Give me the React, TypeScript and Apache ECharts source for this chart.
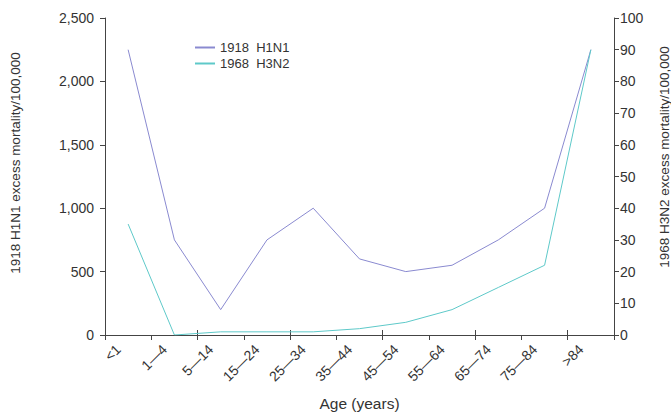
import React, { useEffect, useRef } from "react";
import * as echarts from "echarts";

const ageGroups = ["<1", "1—4", "5—14", "15—24", "25—34", "35—44", "45—54", "55—64", "65—74", "75—84", ">84"];
const h1n1_1918 = [2250, 750, 200, 750, 1000, 600, 500, 550, 750, 1000, 2250];
const h3n2_1968 = [35, 0, 1, 1, 1, 2, 4, 8, 15, 22, 90];

const FONT = "Liberation Sans, Arial, Helvetica, sans-serif";
const AXIS_COLOR = "#444";
const TEXT_COLOR = "#333";

export default function App() {
  const ref = useRef<HTMLDivElement>(null);
  useEffect(() => {
    if (!ref.current) return;
    const chart = echarts.init(ref.current, null, { renderer: "svg" });
    chart.setOption({
      animation: false,
      textStyle: { fontFamily: FONT },
      grid: { left: 105, right: 57, top: 18, bottom: 78, containLabel: false, outerBoundsMode: "none" },
      legend: {
        left: 190,
        top: 36,
        orient: "vertical",
        itemWidth: 20,
        itemHeight: 2,
        itemGap: 3,
        icon: "rect",
        textStyle: { fontSize: 13, color: TEXT_COLOR, fontFamily: FONT },
        data: ["1918  H1N1", "1968  H3N2"],
      },
      xAxis: [
        {
          type: "category",
          data: ageGroups,
          boundaryGap: true,
          name: "Age (years)",
          nameLocation: "middle",
          nameGap: 60,
          nameTextStyle: { fontSize: 15.5, color: TEXT_COLOR, fontFamily: FONT },
          axisLine: { lineStyle: { color: AXIS_COLOR, width: 1 } },
          axisTick: { show: true, length: 5, lineStyle: { color: AXIS_COLOR } },
          axisLabel: {
            rotate: 45,
            fontSize: 14,
            color: TEXT_COLOR,
            margin: 2,
            padding: [0, 14, 0, 0],
            fontFamily: FONT,
            interval: 0,
          },
        },
        {
          type: "category",
          data: ageGroups,
          boundaryGap: true,
          position: "bottom",
          axisLine: { show: false },
          axisTick: { show: true, inside: true, length: 5, lineStyle: { color: AXIS_COLOR } },
          axisLabel: { show: false },
        },
      ],
      yAxis: [
        {
          type: "value",
          min: 0,
          max: 2500,
          interval: 500,
          name: "1918 H1N1 excess mortality/100,000",
          nameLocation: "middle",
          nameGap: 83,
          nameTextStyle: { fontSize: 13.5, color: TEXT_COLOR, fontFamily: FONT, padding: [0, 0, 0, 27] },
          axisLine: { show: true, lineStyle: { color: AXIS_COLOR } },
          axisTick: { show: true, length: 5, lineStyle: { color: AXIS_COLOR } },
          splitLine: { show: false },
          axisLabel: {
            fontSize: 14,
            color: TEXT_COLOR,
            margin: 11,
            fontFamily: FONT,
            formatter: (v: number) => v.toLocaleString("en-US"),
          },
        },
        {
          type: "value",
          min: 0,
          max: 100,
          interval: 10,
          position: "right",
          name: "1968 H3N2 excess mortality/100,000",
          nameLocation: "middle",
          nameGap: 43,
          nameRotate: 90,
          nameTextStyle: { fontSize: 13.5, color: TEXT_COLOR, fontFamily: FONT, padding: [0, 0, 0, 39] },
          axisLine: { show: true, lineStyle: { color: AXIS_COLOR } },
          axisTick: { show: true, length: 5, lineStyle: { color: AXIS_COLOR } },
          splitLine: { show: false },
          axisLabel: { fontSize: 14, color: TEXT_COLOR, margin: 6, fontFamily: FONT },
        },
      ],
      series: [
        {
          name: "1918  H1N1",
          type: "line",
          data: h1n1_1918,
          yAxisIndex: 0,
          symbol: "none",
          lineStyle: { color: "#8a8ad0", width: 1 },
          itemStyle: { color: "#8a8ad0" },
        },
        {
          name: "1968  H3N2",
          type: "line",
          data: h3n2_1968,
          yAxisIndex: 1,
          symbol: "none",
          lineStyle: { color: "#5ec9c9", width: 1 },
          itemStyle: { color: "#5ec9c9" },
        },
      ],
    });
    return () => chart.dispose();
  }, []);
  return <div ref={ref} style={{ position: "absolute", left: 0, top: 0, width: 671, height: 413 }} />;
}
